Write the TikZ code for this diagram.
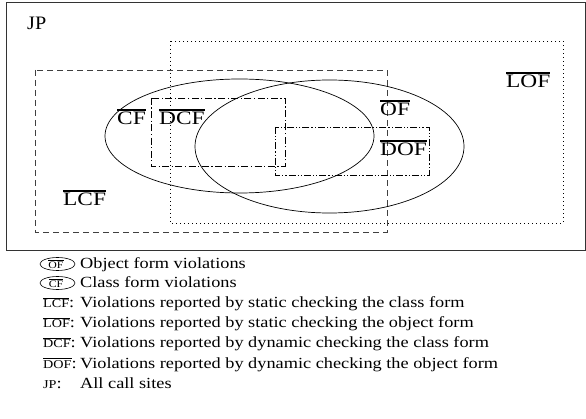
\documentclass[tikz,border=0pt]{standalone}
\usepackage{fontspec}
\setmainfont{Liberation Serif}
\newcommand\tbar[1]{\scalebox{1.23}[1]{\vbox{\hrule height 1.8pt\kern 1.2pt\hbox{#1}}}}
\newcommand\hs[1]{\scalebox{1.18}[1]{#1}}
\newcommand\sbar[2]{\scalebox{1.18}[1]{\vbox{\hrule height 0.5pt\kern 1.2pt\hbox{\fontsize{#2}{#2}\selectfont #1}}}}
\begin{document}
\begin{tikzpicture}[x=1pt,y=-1pt,
  lbl/.style={inner sep=0pt,anchor=base west,font=\fontsize{19}{20}\selectfont},
  leg/.style={inner sep=0pt,anchor=base west,font=\fontsize{15.5}{16}\selectfont},
  key/.style={inner sep=0pt,anchor=base west,font=\fontsize{15.5}{16}\selectfont},
  ln/.style={line width=0.7pt},
  lcfbox/.style={ln,draw=black!75,dash pattern=on 6pt off 4pt},
  lofbox/.style={ln,dash pattern=on 1pt off 3pt},
  dcfbox/.style={ln,dash pattern=on 7pt off 2.5pt on 1.2pt off 2.5pt},
  dofbox/.style={ln,dash pattern=on 7pt off 2pt on 1.2pt off 2pt on 1.2pt off 2pt}]
\useasboundingbox (0,0) rectangle (586,419);
\draw[line width=1pt,black!80] (6,3) rectangle (585,251);
% regions
\draw[lcfbox] (35,70) rectangle (387,232);
\draw[lofbox] (170,41) rectangle (563,223);
\draw[ln] (239.5,136) ellipse [x radius=134.5pt, y radius=57pt];
\draw[ln] (329.5,146.5) ellipse [x radius=134.5pt, y radius=66.5pt];
\draw[dcfbox] (151,98) rectangle (285,166);
\draw[dofbox] (275,127) rectangle (429,175);
% labels
\node[lbl] (jp) at (27,30) {\scalebox{1.06}[1]{JP}};
\node[lbl] (cf) at (117,125) {\tbar{CF}};
\node[lbl] (dcf) at (159,125) {\tbar{DCF}};
\node[lbl] (of) at (380,116) {\tbar{OF}};
\node[lbl] (dof) at (380,156) {\tbar{DOF}};
\node[lbl] (lof) at (506,88) {\tbar{LOF}};
\node[lbl] (lcf) at (63,206) {\tbar{LCF}};
% legend
\draw[line width=0.6pt] (57.5,264) ellipse [x radius=17.5pt, y radius=6.5pt];
\node[inner sep=0pt] (kof) at (56,264.5) {\sbar{OF}{10}};
\draw[line width=0.6pt] (57.5,283) ellipse [x radius=17.5pt, y radius=6.5pt];
\node[inner sep=0pt] (kcf) at (56,283.5) {\sbar{CF}{10}};
\node[leg] (tof) at (80,269) {\hs{Object form violations}};
\node[leg] (tcf) at (80,288) {\hs{Class form violations}};
\node[key] (klcf) at (43,308) {\sbar{LCF}{12}\hs{:}};
\node[leg] (tlcf) at (80,308) {\hs{Violations reported by static checking the class form}};
\node[key] (klof) at (43,328) {\sbar{LOF}{12}\hs{:}};
\node[leg] (tlof) at (80,328) {\hs{Violations reported by static checking the object form}};
\node[key] (kdcf) at (43,348) {\sbar{DCF}{12}\hs{:}};
\node[leg] (tdcf) at (80,348) {\hs{Violations reported by dynamic checking the class form}};
\node[key] (kdof) at (43,368) {\sbar{DOF}{12}\hs{:}};
\node[leg] (tdof) at (80,368) {\hs{Violations reported by dynamic checking the object form}};
\node[key] (kjp) at (43,388) {\hs{\fontsize{12}{12}\selectfont JP}\hs{:}};
\node[leg] (tjp) at (80,388) {\hs{All call sites}};
\end{tikzpicture}
\end{document}
